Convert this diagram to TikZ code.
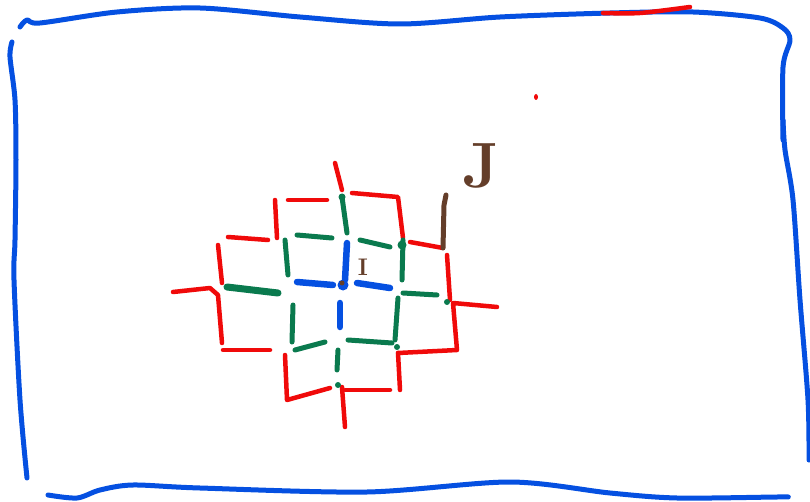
\documentclass[tikz,border=0pt]{standalone}
\usepackage{tikz}
\definecolor{penblue}{RGB}{5,80,225}
\definecolor{penred}{RGB}{240,10,10}
\definecolor{pengreen}{RGB}{10,122,78}
\definecolor{penbrown}{RGB}{100,62,42}

\begin{document}
\begin{tikzpicture}[x=1pt, y=-1pt, line cap=round, line join=round,
  frame/.style={draw=penblue, line width=5pt},
  rd/.style={draw=penred, line width=4.5pt},
  gr/.style={draw=pengreen, line width=5pt},
  bl/.style={draw=penblue, line width=6.5pt},
  br/.style={draw=penbrown, line width=5pt},
  lbl/.style={text=penbrown, inner sep=0pt}
]
\useasboundingbox (0,0) rectangle (810,502);
% outer frame (four strokes)
\draw[frame] plot[smooth] coordinates {(20,27) (27,20) (40,23) (117,12) (200,8) (300,17) (400,24) (500,17) (610,13) (693,12) (760,18) (783,28) (790,40) (783,67) (783,140)};
\draw[frame] plot[smooth] coordinates {(783,120) (785,150) (793,200) (800,300) (808,400) (809,460)};
\draw[frame] plot[smooth] coordinates {(12,42) (10,57) (15,100) (16,160) (15,240) (14,280) (20,400) (27,478)};
\draw[frame] plot[smooth] coordinates {(48,495) (77,498) (100,490) (133,485) (200,488) (367,492) (510,482) (610,493) (677,498) (777,497) (788,497)};
% red marks on top
\draw[rd] plot[smooth] coordinates {(603,13) (640,13) (690,7)};
\fill[penred] (536,97) ellipse (2pt and 3pt);
% red outer ring
\draw[rd] (335,163) -- (342,190);
\draw[rd] (288,200) -- (327,200);
\draw[rd] (275,200) -- (277,238);
\draw[rd] (352,193) -- (398,197) -- (403,238);
\draw[rd] (228,237) -- (268,240);
\draw[rd] (218,245) -- (222,283);
\draw[rd] (173,292) -- (210,288) -- (218,295) -- (222,343);
\draw[rd] (223,350) -- (270,350);
\draw[rd] (285,355) -- (287,400) -- (330,388);
\draw[rd] (342,387) -- (345,427);
\draw[rd] (345,390) -- (390,390);
\draw[rd] (398,353) -- (400,390);
\draw[rd] (398,353) -- (457,350) -- (453,303) -- (497,307);
\draw[rd] (447,255) -- (450,300);
\draw[rd] (410,242) -- (443,248);
% green middle ring
\draw[gr] (342,197) -- (347,233);
\fill[pengreen] (342,197) circle (3.5pt);
\draw[gr] (297,235) -- (332,238);
\draw[gr] (360,240) -- (390,247);
\draw[gr] (403,240) -- (402,280);
\fill[pengreen] (402,245) circle (4.5pt);
\draw[gr] (285,240) -- (288,275);
\draw[gr, line width=7pt] (227,287) -- (278,293);
\draw[gr] (403,293) -- (437,295);
\fill[pengreen] (447,302) circle (3pt);
\draw[gr] (398,298) -- (395,340);
\draw[gr] (293,305) -- (292,342);
\draw[gr] (295,350) -- (325,342);
\draw[gr] (348,340) -- (392,343);
\fill[pengreen] (397,347) circle (3pt);
\draw[gr] (338,350) -- (337,370);
\fill[pengreen] (338,385) circle (3pt);
% blue centre cross
\draw[bl] (347,243) -- (345,280);
\draw[bl] (297,282) -- (333,285);
\fill[penblue] (343,285) circle (5.5pt);
\draw[bl] (357,283) -- (390,288);
\draw[bl] (340,303) -- (340,327);
% brown marks and labels
\fill[penbrown] (342,283) circle (2.5pt);
\draw[br] (443,248) -- (444,205) -- (446,195);
\node[lbl, font=\fontsize{24}{24}\selectfont\bfseries] (labI) at (363,267) {I};
\node[lbl, font=\fontsize{64}{64}\selectfont\bfseries] (labJ) at (481,166) {J};
\end{tikzpicture}
\end{document}
